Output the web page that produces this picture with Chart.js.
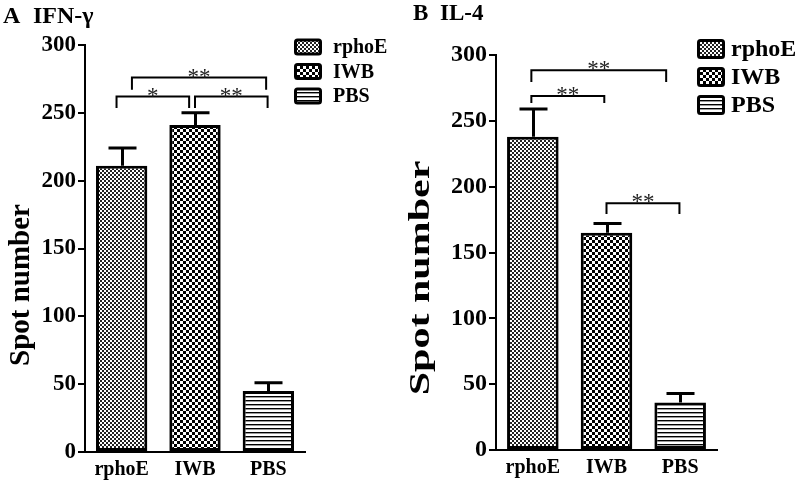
<!DOCTYPE html>
<html><head><meta charset="utf-8">
<script src="https://cdn.jsdelivr.net/npm/chart.js@4.4.0/dist/chart.umd.min.js"></script>
<style>
html,body{margin:0;padding:0;background:#fff;}
#wrap{position:relative;width:800px;height:481px;overflow:hidden;}
.panel{position:absolute;top:0;width:400px;height:481px;}
canvas{display:block;}
</style></head><body>
<div id="wrap">
<div class="panel" style="left:0"><canvas id="cA" width="400" height="481" style="width:400px;height:481px"></canvas></div>
<div class="panel" style="left:400px"><canvas id="cB" width="400" height="481" style="width:400px;height:481px"></canvas></div>
</div>
<script>
// ---- data ----
const groups = ['rphoE', 'IWB', 'PBS'];
const yTicks = [0, 50, 100, 150, 200, 250, 300];
const ifnMeans = [211, 241, 45];
const ifnErrors = [13, 9, 6];
const il4Means = [238, 165, 36];
const il4Errors = [21, 7, 7];
// significance brackets: [from position, to position, top value, left leg value, right leg value, label]
const ifnSig = [
  [0.14, 1.97, 276, 267, 267, '**'],
  [-0.07, 0.92, 262, 253.5, 253.5, '*'],
  [1.0, 1.99, 262, 253.5, 253.5, '**']
];
const il4Sig = [
  [-0.02, 1.81, 288.5, 279.4, 279.4, '**'],
  [-0.02, 0.97, 268.8, 263.5, 263.5, '**'],
  [1.0, 1.99, 187.5, 179.2, 179.2, '**']
];
const yTitle = 'Spot number';

const F = '"Liberation Serif", "Times New Roman", serif';

function makePatterns() {
  const ref = document.createElement('canvas').getContext('2d');
  const mk = (w, h, draw) => {
    const c = document.createElement('canvas'); c.width = w; c.height = h;
    const x = c.getContext('2d'); x.fillStyle = '#fff'; x.fillRect(0, 0, w, h);
    draw(x); return ref.createPattern(c, 'repeat');
  };
  const fine = mk(4, 4, x => { x.fillStyle = '#222'; x.fillRect(0, 0, 2, 2); x.fillRect(2, 2, 2, 2); });
  const coarse = mk(6, 6, x => { x.fillStyle = '#000'; x.fillRect(0, 0, 3, 3); x.fillRect(3, 3, 3, 3); });
  const stripes = mk(4, 4, x => { x.fillStyle = '#000'; x.fillRect(0, 0, 4, 1); x.fillStyle = '#999'; x.fillRect(0, 1, 4, 1); });
  return [fine, coarse, stripes];
}
const patterns = makePatterns();

const decor = {
  id: 'decor',
  afterDatasetsDraw(chart, args, o) {
    const ctx = chart.ctx, xs = chart.scales.x, ys = chart.scales.y;
    const data = chart.data.datasets[0].data;
    ctx.save();
    // error bars
    ctx.strokeStyle = '#000'; ctx.lineWidth = 3; ctx.lineCap = 'butt';
    o.errors.forEach((e, i) => {
      const x = Math.round(xs.getPixelForValue(i)) + 0.5;
      const y0 = ys.getPixelForValue(data[i]), y1 = ys.getPixelForValue(data[i] + e);
      ctx.beginPath(); ctx.moveTo(x, y0); ctx.lineTo(x, y1);
      ctx.moveTo(x - o.capHalf, y1); ctx.lineTo(x + o.capHalf, y1); ctx.stroke();
    });
    // brackets
    ctx.lineWidth = 2;
    o.brackets.forEach(b => {
      const x1 = xs.getPixelForValue(b[0]), x2 = xs.getPixelForValue(b[1]);
      const yt = ys.getPixelForValue(b[2]), yl = ys.getPixelForValue(b[3]), yr = ys.getPixelForValue(b[4]);
      ctx.strokeStyle = '#000';
      ctx.beginPath(); ctx.moveTo(x1, yl); ctx.lineTo(x1, yt); ctx.lineTo(x2, yt); ctx.lineTo(x2, yr); ctx.stroke();
      ctx.fillStyle = '#222'; ctx.font = '23px ' + F; ctx.textAlign = 'center'; ctx.textBaseline = 'alphabetic';
      ctx.fillText(b[5], (x1 + x2) / 2, yt + 6);
    });
    ctx.restore();
  },
  afterDraw(chart, args, o) {
    const ctx = chart.ctx;
    ctx.save();
    // panel title
    ctx.fillStyle = '#000'; ctx.textAlign = 'left'; ctx.textBaseline = 'alphabetic';
    ctx.font = 'bold ' + o.titleSize + 'px ' + F;
    ctx.fillText(o.letter, o.letterX, o.titleY);
    ctx.fillText(o.title, o.titleX, o.titleY);
    // axis title
    ctx.save();
    ctx.translate(o.axX, o.axY); ctx.rotate(-Math.PI / 2); ctx.scale(o.axStretch, 1);
    ctx.font = 'bold ' + o.axSize + 'px ' + F; ctx.textAlign = 'center'; ctx.textBaseline = 'middle';
    ctx.fillText(yTitle, 0, 0);
    ctx.restore();
    // legend
    groups.forEach((g, i) => {
      const cy = o.legY + i * o.legGap;
      ctx.beginPath();
      ctx.roundRect(o.legX + 1.5, cy - o.legH / 2 + 1.5, o.legW - 3, o.legH - 3, 2);
      ctx.fillStyle = patterns[i]; ctx.fill();
      ctx.lineWidth = 3; ctx.strokeStyle = '#000'; ctx.stroke();
      ctx.fillStyle = '#000'; ctx.font = 'bold ' + o.legSize + 'px ' + F;
      ctx.textAlign = 'left'; ctx.textBaseline = 'middle';
      ctx.fillText(g, o.legTextX, cy + 1);
    });
    ctx.restore();
  }
};

function build(id, means, errors, sig, c) {
  return new Chart(document.getElementById(id), {
    type: 'bar',
    data: {
      labels: groups,
      datasets: [{ data: means, backgroundColor: patterns, borderColor: '#000', borderWidth: 3,
        borderSkipped: false, barPercentage: 0.7, categoryPercentage: 1 }]
    },
    options: {
      responsive: false, animation: false, devicePixelRatio: 1,
      layout: { padding: { left: 0, top: c.top, right: c.right, bottom: 0 } },
      plugins: { legend: { display: false }, tooltip: { enabled: false }, decor: c.decor },
      scales: {
        x: {
          grid: { display: false, drawTicks: false },
          border: { display: true, color: '#000', width: 2 },
          ticks: { color: '#000', font: { family: F, size: 20, weight: 'bold' }, padding: 6 },
          afterFit(s) { s.height = c.xH; }
        },
        y: {
          min: 0, max: 300,
          afterBuildTicks(s) { s.ticks = yTicks.map(v => ({ value: v })); },
          ticks: { color: '#000', font: { family: F, size: c.yFont, weight: 'bold' }, padding: 2 },
          grid: { display: true, drawOnChartArea: false, drawTicks: true, tickLength: 7, color: '#000', lineWidth: 2 },
          border: { display: true, color: '#000', width: 2 },
          afterFit(s) { s.width = c.yW; }
        }
      }
    },
    plugins: [decor]
  });
}

build('cA', ifnMeans, ifnErrors, ifnSig, {
  top: 45, right: 95, xH: 29, yW: 85, yFont: 23,
  decor: { errors: ifnErrors, brackets: ifnSig, capHalf: 14,
    letter: 'A', title: 'IFN-\u03b3', letterX: 3, titleX: 33, titleY: 23, titleSize: 24,
    axX: 22, axY: 285, axSize: 29, axStretch: 1,
    legX: 294, legY: 47, legGap: 24.5, legW: 28, legH: 17, legTextX: 333, legSize: 20 }
});
build('cB', il4Means, il4Errors, il4Sig, {
  top: 55, right: 83, xH: 31, yW: 96, yFont: 24,
  decor: { errors: il4Errors, brackets: il4Sig, capHalf: 14,
    letter: 'B', title: 'IL-4', letterX: 13, titleX: 40, titleY: 20, titleSize: 23,
    axX: 21, axY: 278, axSize: 30, axStretch: 1.4,
    legX: 297, legY: 49, legGap: 28, legW: 28, legH: 20, legTextX: 331, legSize: 24 }
});
</script>
</body></html>
